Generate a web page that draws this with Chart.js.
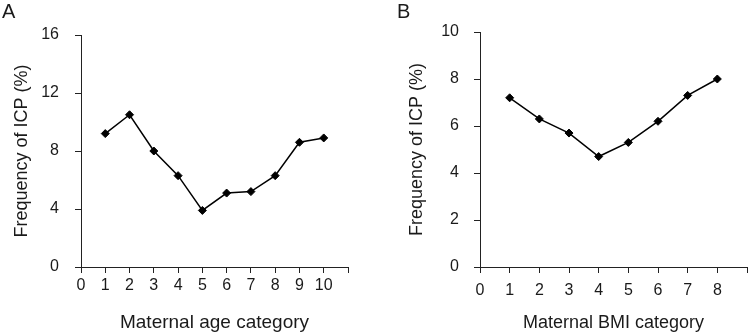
<!DOCTYPE html>
<html lang="en">
<head>
  <meta charset="UTF-8">
  <title>Frequency of ICP by maternal age and BMI</title>
  <script src="https://cdn.jsdelivr.net/npm/chart.js"></script>
  <style>
    html, body { margin: 0; padding: 0; background: #fff; }
    #wrap { position: relative; width: 749px; height: 335px; overflow: hidden; font-family: "Liberation Sans", Arial, sans-serif; }
    .panel { position: absolute; top: 0; height: 335px; }
    .tag { position: absolute; font-size: 20px; color: #1a1a1a; line-height: 1; }
  </style>
</head>
<body>
<div id="wrap">
  <div class="panel" style="left:0;width:370px;"><canvas id="chartA" width="370" height="335"></canvas></div>
  <div class="panel" style="left:375px;width:380px;"><canvas id="chartB" width="380" height="335"></canvas></div>
  <div class="tag" style="left:2px;top:1px;">A</div>
  <div class="tag" style="left:397px;top:1px;">B</div>
</div>

<script>
  // Panel A: maternal age category
  const ageCategories = [1, 2, 3, 4, 5, 6, 7, 8, 9, 10];
  const ageIcp = [9.2, 10.5, 8.0, 6.3, 3.9, 5.1, 5.2, 6.3, 8.6, 8.9];
  const ageYTicks = [0, 4, 8, 12, 16];

  // Panel B: maternal BMI category
  const bmiCategories = [1, 2, 3, 4, 5, 6, 7, 8];
  const bmiIcp = [7.2, 6.3, 5.7, 4.7, 5.3, 6.2, 7.3, 8.0];
  const bmiYTicks = [0, 2, 4, 6, 8, 10];

  const yTitle = "Frequency of ICP (%)";
  const textColor = "#1a1a1a";
  const fontFamily = "'Liberation Sans', Arial, sans-serif";

  function makeChart(canvasId, cats, vals, yTicks, xMax, xTitle, lay) {
    const yMax = yTicks[yTicks.length - 1];
    return new Chart(document.getElementById(canvasId), {
      type: "line",
      data: {
        datasets: [{
          data: cats.map((c, i) => ({ x: c, y: vals[i] })),
          borderColor: "#000",
          backgroundColor: "#000",
          borderWidth: 1.5,
          pointStyle: "rectRot",
          pointRadius: 4,
          pointBorderWidth: 1,
          tension: 0,
          fill: false
        }]
      },
      options: {
        responsive: false,
        animation: false,
        events: [],
        layout: { autoPadding: false, padding: { left: lay.left, right: lay.right, top: lay.top, bottom: lay.bottom } },
        plugins: { legend: { display: false }, tooltip: { enabled: false }, title: { display: false } },
        scales: {
          x: {
            type: "linear",
            min: 0,
            max: xMax,
            afterFit: s => { s.height = lay.xHeight; },
            afterBuildTicks: s => { s.ticks = []; for (let v = 0; v <= xMax; v++) s.ticks.push({ value: v }); },
            ticks: {
              color: textColor,
              padding: lay.xPad,
              maxRotation: 0,
              autoSkip: false,
              font: { family: fontFamily, size: 16 },
              callback: v => (v === xMax ? "" : String(v))
            },
            grid: { drawOnChartArea: false, drawTicks: true, tickLength: 6, color: "#222", lineWidth: 1 },
            border: { display: true, color: "#222", width: 1 },
            title: { display: true, text: xTitle, color: textColor, padding: 0, font: { family: fontFamily, size: lay.xTitleSize } }
          },
          y: {
            min: 0,
            max: yMax,
            afterFit: s => { s.width = lay.yWidth; },
            afterBuildTicks: s => { s.ticks = yTicks.map(v => ({ value: v })); },
            ticks: {
              color: textColor,
              padding: lay.yPad,
              font: { family: fontFamily, size: 16 }
            },
            grid: { drawOnChartArea: false, drawTicks: true, tickLength: 6, color: "#222", lineWidth: 1 },
            border: { display: true, color: "#222", width: 1 },
            title: { display: true, text: yTitle, color: textColor, padding: 0, font: { family: fontFamily, size: 18 } }
          }
        }
      }
    });
  }

  makeChart("chartA", ageCategories, ageIcp, ageYTicks, 11, "Maternal age category",
    { left: 11, right: 22, top: 35, bottom: 1, xHeight: 67, yWidth: 70, xPad: 3, yPad: 16, xTitleSize: 19 });

  makeChart("chartB", bmiCategories, bmiIcp, bmiYTicks, 9, "Maternal BMI category",
    { left: 31, right: 0, top: 32, bottom: 1, xHeight: 67, yWidth: 74, xPad: 8, yPad: 15, xTitleSize: 18 });
</script>
</body>
</html>
